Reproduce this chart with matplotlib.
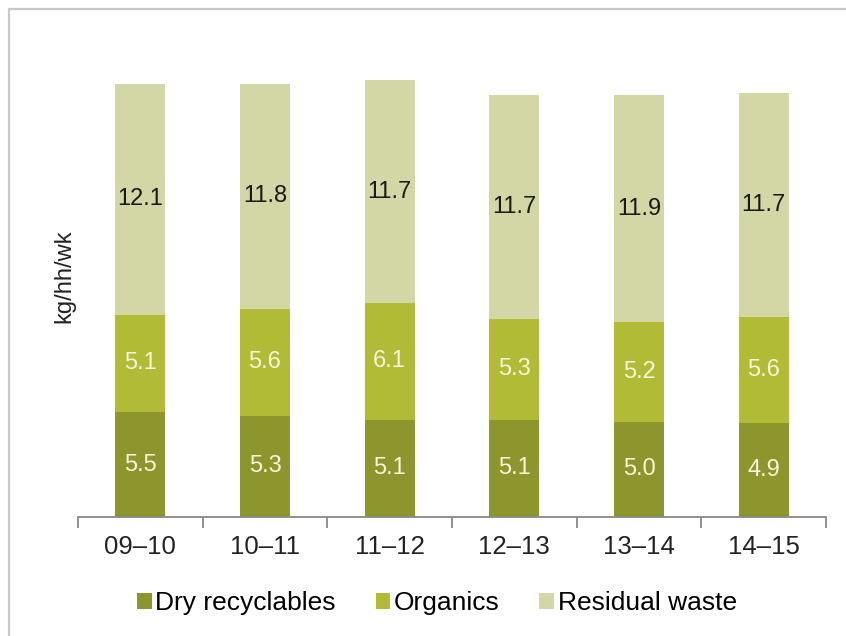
import numpy as np
import matplotlib
matplotlib.use("Agg")
import matplotlib.pyplot as plt
from matplotlib.patches import Rectangle

plt.rcParams["font.family"] = ["Liberation Sans", "DejaVu Sans"]

YEARS = ["09–10", "10–11", "11–12", "12–13", "13–14", "14–15"]
DRY = [5.5, 5.3, 5.1, 5.1, 5.0, 4.9]
ORGANICS = [5.1, 5.6, 6.1, 5.3, 5.2, 5.6]
RESIDUAL = [12.1, 11.8, 11.7, 11.7, 11.9, 11.7]
SERIES_NAMES = ["Dry recyclables", "Organics", "Residual waste"]

COLORS = ["#8c962c", "#b2bb36", "#d3d6a5"]
TEXT_COLORS = ["#f6f5dc", "#f6f5dc", "#1a1a1a"]

fig = plt.figure(figsize=(8.46, 6.36), dpi=100)
W, H = 846, 636
ax = fig.add_axes([78 / W, 1 - 517 / H, (826 - 78) / W, (517 - 59) / H])

# light grey frame around the chart (top and left visible)
fig.patches.append(Rectangle((9 / W, -0.1), 1.2, 1 - 9 / H + 0.1,
                             transform=fig.transFigure, fill=False,
                             edgecolor="#c8c8c8", lw=1.6))

x = np.arange(len(YEARS))
bottom = np.zeros(len(YEARS))
for vals, name, col, tcol in zip([DRY, ORGANICS, RESIDUAL], SERIES_NAMES, COLORS, TEXT_COLORS):
    vals = np.array(vals)
    ax.bar(x, vals, 0.4, bottom=bottom, color=col, label=name)
    for xi, b, v in zip(x, bottom, vals):
        ax.text(xi, b + v / 2, f"{v:.1f}", ha="center", va="center",
                fontsize=17, color=tcol)
    bottom += vals

ax.set_xlim(-0.5, len(YEARS) - 0.5)
ax.set_ylim(0, 24)
for s in ["top", "right", "left"]:
    ax.spines[s].set_visible(False)
ax.spines["bottom"].set_color("#888888")
ax.spines["bottom"].set_linewidth(1.3)
ax.set_yticks([])
ax.set_xticks(x)
ax.set_xticklabels(YEARS, fontsize=18.5, color="#222222")
ax.tick_params(axis="x", which="major", length=0, pad=13)
ax.set_xticks(np.arange(-0.5, len(YEARS)), minor=True)
ax.tick_params(axis="x", which="minor", length=8, width=1.3, color="#888888")
ax.set_ylabel("kg/hh/wk", fontsize=17, color="#222222")
ax.yaxis.set_label_coords(-0.003, 0.525)

ax.legend(loc="center", bbox_to_anchor=(437 / W, 1 - 603 / H),
          bbox_transform=fig.transFigure, ncol=3, frameon=False,
          fontsize=19, handlelength=0.55, handleheight=0.55,
          handletextpad=0.15, columnspacing=1.5)

fig.savefig("out.png", dpi=100)
